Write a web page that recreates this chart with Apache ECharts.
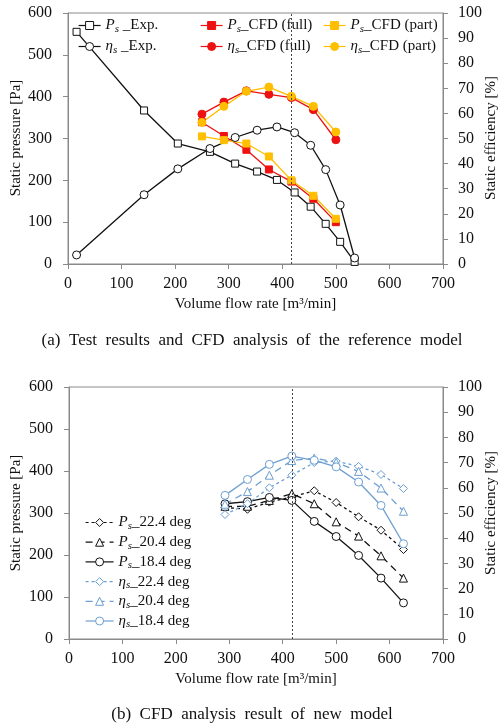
<!DOCTYPE html>
<html><head><meta charset="utf-8">
<script src="https://cdn.jsdelivr.net/npm/echarts@6/dist/echarts.min.js"></script>
<style>html,body{margin:0;padding:0;background:#fff}#c{width:504px;height:727px}</style>
</head><body><div id="c"></div>
<script>
// ---------- data: (a) reference model ----------
const flowExp = [16, 142, 205, 265, 312, 353, 390, 423, 453, 481, 508, 535];
const psExp = [555, 367, 288, 268, 240, 221, 201, 171, 137, 96, 53, 5];
const etaExp = [3.6, 27.6, 37.9, 46.0, 50.4, 53.3, 54.6, 52.3, 47.3, 37.6, 23.5, 2.4];
const flowCfd = [250, 291, 333, 375, 417, 458, 500];
const psCfdFull = [339, 306, 273, 226, 197, 156, 100];
const psCfdPart = [305, 296, 288, 257, 200, 163, 108];
const etaCfdFull = [59.7, 64.5, 69.0, 67.6, 66.3, 61.5, 49.5];
const etaCfdPart = [56.4, 62.8, 68.8, 70.5, 66.8, 62.8, 52.6];
// ---------- data: (b) new model ----------
const flowNew = [292, 334, 375, 417, 459, 500, 542, 584, 626];
const ps224 = [313, 309, 326, 338, 353, 325, 291, 259, 213];
const ps204 = [316, 316, 330, 346, 322, 279, 245, 198, 145];
const ps184 = [322, 327, 337, 330, 280, 244, 199, 145, 86];
const eta224 = [49.4, 53.7, 60.0, 65.0, 70.0, 70.6, 68.5, 65.3, 59.7];
const eta204 = [53.5, 58.5, 65.0, 70.8, 71.8, 70.1, 66.5, 59.9, 50.7];
const eta184 = [57.0, 63.3, 69.3, 72.6, 70.9, 68.3, 62.3, 53.0, 37.8];
const designFlow = 417;
// ---------- axis / text ----------
const xTicks = [0, 700, 100];
const psTicks = [0, 600, 100];
const etaTicks = [0, 100, 10];
const xName = 'Volume flow rate [m\u00B3/min]';
const psName = 'Static pressure [Pa]';
const etaName = 'Static efficiency [%]';
const captionA = '(a)  Test  results  and  CFD  analysis  of  the  reference  model';
const captionB = '(b)  CFD  analysis  result  of  new  model';

const FONT = 'Liberation Serif';
const AX = '#8a8a8a';
const BLUE = '#6d9fd2';
const RED = '#ee1111';
const YEL = '#ffbf00';

function pairs(xs, ys) { return xs.map((x, i) => [x, ys[i]]); }

const rich = {
  it: { fontFamily: FONT, fontStyle: 'italic', fontSize: 15, lineHeight: 18, color: '#111' },
  sub: { fontFamily: FONT, fontStyle: 'italic', fontSize: 11, lineHeight: 10, verticalAlign: 'bottom', color: '#111' },
  n: { fontFamily: FONT, fontSize: 15, lineHeight: 18, color: '#111' }
};
const labelMap = {
  'psExp': '{it|P}{sub|s}{n| _Exp.}',
  'etaExp': '{it|\u03B7}{sub|s}{n| _Exp.}',
  'psFull': '{it|P}{sub|s}{n|_CFD (full)}',
  'etaFull': '{it|\u03B7}{sub|s}{n|_CFD (full)}',
  'psPart': '{it|P}{sub|s}{n|_CFD (part)}',
  'etaPart': '{it|\u03B7}{sub|s}{n|_CFD (part)}',
  'ps224': '{it|P}{sub|s}{n|_22.4 deg}',
  'ps204': '{it|P}{sub|s}{n|_20.4 deg}',
  'ps184': '{it|P}{sub|s}{n|_18.4 deg}',
  'eta224': '{it|\u03B7}{sub|s}{n|_22.4 deg}',
  'eta204': '{it|\u03B7}{sub|s}{n|_20.4 deg}',
  'eta184': '{it|\u03B7}{sub|s}{n|_18.4 deg}'
};

function xAxisFor(gi) {
  return {
    type: 'value', gridIndex: gi, min: xTicks[0], max: xTicks[1], interval: xTicks[2],
    name: xName, nameLocation: 'middle', nameGap: 33,
    nameTextStyle: { fontFamily: FONT, fontSize: 15, color: '#111' },
    axisLine: { lineStyle: { color: AX } },
    axisTick: { show: true, length: 5, lineStyle: { color: AX } },
    axisLabel: { fontFamily: FONT, fontSize: 16, color: '#111', margin: 12 },
    splitLine: { show: false }
  };
}
function yLeft(gi) {
  return {
    type: 'value', gridIndex: gi, position: 'left', min: psTicks[0], max: psTicks[1], interval: psTicks[2],
    axisLine: { show: true, lineStyle: { color: AX } },
    axisTick: { show: true, length: 5, lineStyle: { color: AX } },
    axisLabel: { fontFamily: FONT, fontSize: 16, color: '#111', margin: 16 },
    splitLine: { show: false }
  };
}
function yRight(gi) {
  return {
    type: 'value', gridIndex: gi, position: 'right', min: etaTicks[0], max: etaTicks[1], interval: etaTicks[2],
    axisLine: { show: true, lineStyle: { color: AX } },
    axisTick: { show: true, length: 5, lineStyle: { color: AX } },
    axisLabel: { fontFamily: FONT, fontSize: 16, color: '#111', margin: 15 },
    splitLine: { show: false }
  };
}

function lineSeries(name, xi, yi, data, color, symbol, size, filled, dash) {
  return {
    name: name, type: 'line', xAxisIndex: xi, yAxisIndex: yi, data: data,
    symbol: symbol, symbolSize: size, showSymbol: true,
    lineStyle: { color: color, width: 1.3, type: dash || 'solid' },
    itemStyle: { color: filled ? color : '#fff', borderColor: color, borderWidth: 1 },
    emphasis: { disabled: true }, animation: false, z: 3
  };
}

const vline = {
  silent: true, symbol: ['none', 'none'], label: { show: false },
  lineStyle: { type: [2, 2], color: '#444', width: 1 },
  data: [{ xAxis: designFlow }]
};

const sA = [
  lineSeries('psExp', 0, 0, pairs(flowExp, psExp), '#111', 'rect', 7, false),
  lineSeries('etaExp', 0, 1, pairs(flowExp, etaExp), '#111', 'circle', 8, false),
  lineSeries('psFull', 0, 0, pairs(flowCfd, psCfdFull), RED, 'rect', 7, true),
  lineSeries('psPart', 0, 0, pairs(flowCfd, psCfdPart), YEL, 'rect', 7, true),
  lineSeries('etaFull', 0, 1, pairs(flowCfd, etaCfdFull), RED, 'circle', 8, true),
  lineSeries('etaPart', 0, 1, pairs(flowCfd, etaCfdPart), YEL, 'circle', 8, true)
];
sA[0].markLine = vline;

const sB = [
  lineSeries('ps224', 1, 2, pairs(flowNew, ps224), '#111', 'diamond', 8, false, [3, 3]),
  lineSeries('ps204', 1, 2, pairs(flowNew, ps204), '#111', 'triangle', 8, false, [7, 5]),
  lineSeries('ps184', 1, 2, pairs(flowNew, ps184), '#111', 'circle', 8, false),
  lineSeries('eta224', 1, 3, pairs(flowNew, eta224), BLUE, 'diamond', 8, false, [3, 3]),
  lineSeries('eta204', 1, 3, pairs(flowNew, eta204), BLUE, 'triangle', 8, false, [7, 5]),
  lineSeries('eta184', 1, 3, pairs(flowNew, eta184), BLUE, 'circle', 8, false)
];
sB[0].markLine = vline;

const legItem = { borderWidth: 1 };
const legLine = { width: 1.2 };
function leg(name, left, top, w) {
  return {
    data: [name], left: left, top: top, padding: 0, itemWidth: w || 22, itemHeight: 10, itemGap: 0,
    selectedMode: false, itemStyle: legItem, lineStyle: legLine,
    formatter: n => labelMap[n], textStyle: { rich: rich }
  };
}
const legends = [
  leg('psExp', 78, 18), leg('etaExp', 78, 39),
  leg('psFull', 200, 18), leg('etaFull', 200, 39),
  leg('psPart', 323, 18), leg('etaPart', 323, 39),
  {
    data: ['ps224', 'ps204', 'ps184', 'eta224', 'eta204', 'eta184'],
    orient: 'vertical', left: 85, top: 515, padding: 0, itemWidth: 28, itemHeight: 10, itemGap: 3.2,
    selectedMode: false, itemStyle: legItem, lineStyle: legLine,
    formatter: n => labelMap[n], textStyle: { rich: rich }
  }
];

function vTitle(text, x, y) {
  return {
    type: 'text', x: x, y: y, rotation: Math.PI / 2, silent: true,
    style: { text: text, fontFamily: FONT, fontSize: 15, fill: '#111', align: 'center', verticalAlign: 'middle' }
  };
}

const chart = echarts.init(document.getElementById('c'), null, { renderer: 'canvas' });
chart.setOption({
  animation: false,
  backgroundColor: '#fff',
  title: [
    { text: captionA, left: 'center', top: 327, textStyle: { fontFamily: FONT, fontSize: 17, fontWeight: 'normal', color: '#111' } },
    { text: captionB, left: 'center', top: 701, textStyle: { fontFamily: FONT, fontSize: 17, fontWeight: 'normal', color: '#111' } }
  ],
  grid: [
    { left: 68, right: 61, top: 13, height: 251, show: true, borderColor: AX, borderWidth: 1, backgroundColor: 'transparent', containLabel: false, outerBoundsMode: 'none' },
    { left: 69, right: 61, top: 387, height: 252, show: true, borderColor: AX, borderWidth: 1, backgroundColor: 'transparent', containLabel: false, outerBoundsMode: 'none' }
  ],
  graphic: [
    vTitle(psName, 16, 138), vTitle(etaName, 491, 138),
    vTitle(psName, 16, 513), vTitle(etaName, 491, 513)
  ],
  xAxis: [xAxisFor(0), xAxisFor(1)],
  yAxis: [yLeft(0), yRight(0), yLeft(1), yRight(1)],
  legend: legends,
  series: sA.concat(sB)
});
</script></body></html>
